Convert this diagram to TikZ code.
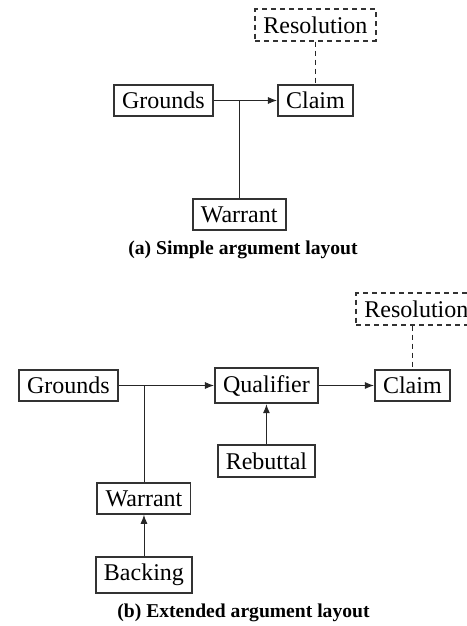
\documentclass[tikz,border=0pt]{standalone}
\usepackage{fontspec}
\setmainfont{Liberation Serif}
\usepackage{tikz}
\usetikzlibrary{arrows.meta,positioning,calc}

\begin{document}
\begin{tikzpicture}[
    element/.style={rectangle, draw=black!80, line width=0.95pt, inner xsep=4.1pt, inner ysep=3.7pt, font=\fontsize{12}{14}\selectfont},
    optional/.style={element, dash pattern=on 2.5pt off 2pt},
    arrow/.style={-{Latex[length=4.5pt,width=3.5pt]}, line width=0.45pt, draw=black!85},
    link/.style={line width=0.45pt, draw=black!85},
    dashlink/.style={link, dash pattern=on 2.5pt off 2pt},
    caption/.style={font=\fontsize{9.8}{12}\selectfont\bfseries},
    node distance=20pt
]
    \useasboundingbox (0,0) rectangle (233pt,-313pt);

    % (a) simple layout
    \node[element] (grounds) at (81.75pt,-50.25pt) {Grounds};
    \node[element, right=31.5pt of grounds] (claim) {Claim};
    \node[optional, above=21pt of claim] (resolution) {Resolution};
    \coordinate (ja) at ($(grounds.east)!0.4!(claim.west)$);
    \node[element, below=48.75pt of ja, anchor=north] (warrant) {Warrant};
    \node[caption] (capa) at (121.5pt,-125pt) {(a) Simple argument layout};

    \draw[arrow] (grounds) -- (claim);
    \draw[link] (warrant) -- (ja);
    \draw[dashlink] (resolution) -- (claim);

    % (b) extended layout
    \node[element] (grounds2) at (34.25pt,-192.75pt) {Grounds};
    \node[element, right=47.5pt of grounds2] (qualifier) {Qualifier};
    \node[element, right=27.5pt of qualifier] (claim2) {Claim};
    \node[optional, above=21.5pt of claim2, xshift=2pt] (resolution2) {Resolution};
    \node[element, below=of qualifier] (rebuttal) {Rebuttal};
    \coordinate (jb) at ($(grounds2.east)!0.263!(qualifier.west)$);
    \node[element, below=48.25pt of jb, anchor=north] (warrant2) {Warrant};
    \node[element, below=20.5pt of warrant2] (backing) {Backing};
    \node[caption] (capb) at (121.75pt,-306.5pt) {(b) Extended argument layout};

    \draw[arrow] (grounds2) -- (qualifier);
    \draw[arrow] (qualifier) -- (claim2);
    \draw[arrow] (rebuttal) -- (qualifier);
    \draw[arrow] (backing) -- (warrant2);
    \draw[link] (warrant2) -- (jb);
    \draw[dashlink] (resolution2.south -| claim2) -- (claim2);
\end{tikzpicture}
\end{document}
